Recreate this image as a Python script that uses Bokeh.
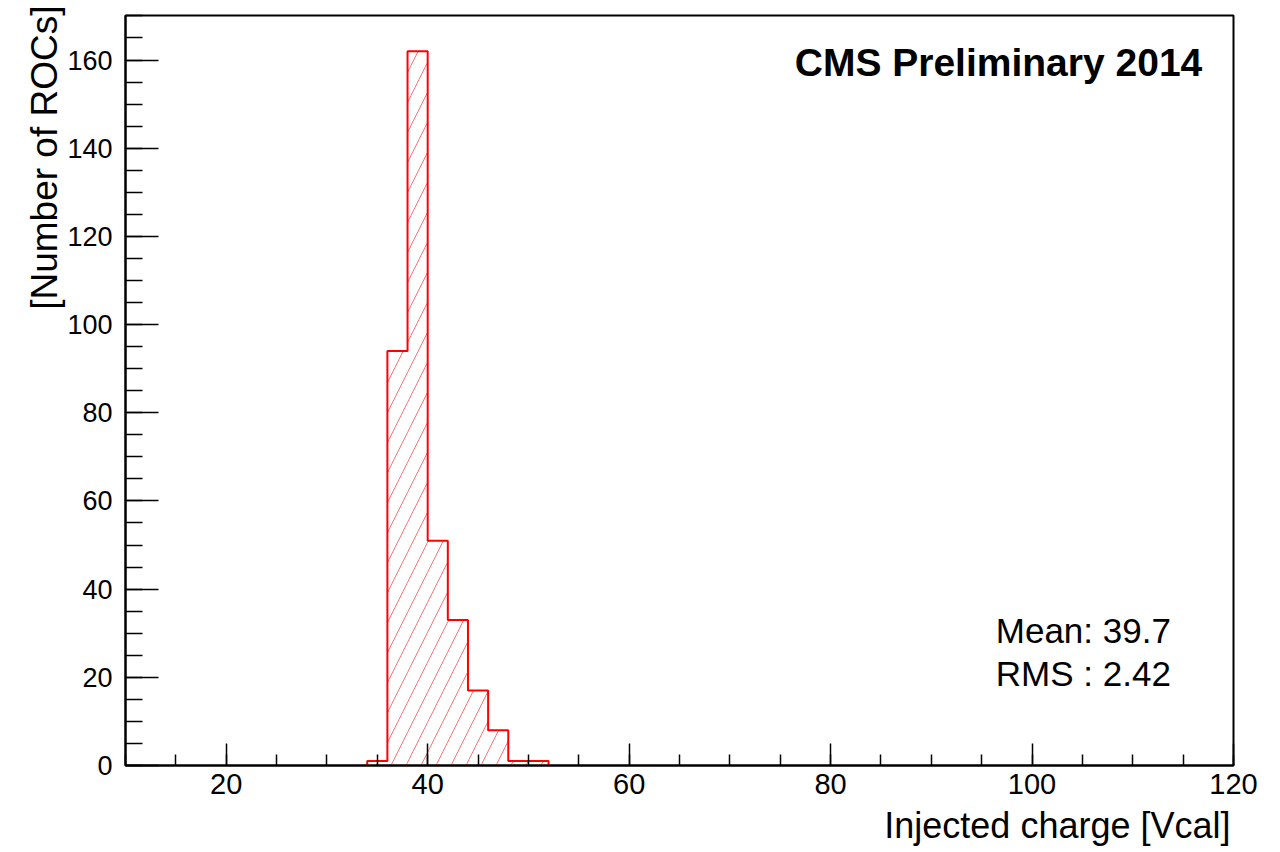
import math
from bokeh.plotting import figure
from bokeh.models import SingleIntervalTicker, Label, ColumnDataSource, Title
from bokeh.embed import file_html
from bokeh.resources import INLINE

# ---- data ----
bin_low = [34, 36, 38, 40, 42, 44, 46, 48, 50]
bin_width = 2
counts = [1, 94, 162, 51, 33, 17, 8, 1, 1]
x_ticks_major = 20
y_ticks_major = 20
title_text = "CMS Preliminary 2014"
stats_lines = ["Mean: 39.7", "RMS : 2.42"]
x_title = "Injected charge [Vcal]"
y_title = "[Number of ROCs]"

FONT = "Liberation Sans"

p = figure(width=1280, height=852, x_range=(10, 120), y_range=(0, 170.1),
           output_backend="svg", toolbar_location=None,
           min_border_left=125, min_border_right=47,
           min_border_top=15, min_border_bottom=87)
p.background_fill_color = "white"
p.border_fill_color = "white"
p.grid.visible = False
p.outline_line_color = "black"
p.outline_line_width = 2

# hatched bins
bin_high = [b + bin_width for b in bin_low]
src = ColumnDataSource(dict(left=bin_low, right=bin_high, top=counts, bottom=[0] * len(counts)))
p.quad(left="left", right="right", top="top", bottom="bottom", source=src,
       fill_color=None, line_color=None,
       hatch_pattern="/", hatch_color="#ff0000", hatch_alpha=0.55,
       hatch_weight=1, hatch_scale=30)

# step outline
xs = [bin_low[0]]
ys = [0]
for lo, hi, c in zip(bin_low, bin_high, counts):
    xs += [lo, hi]
    ys += [c, c]
xs.append(bin_high[-1])
ys.append(0)
p.line(xs, ys, line_color="#ff0000", line_width=2)

# axes
xa = p.xaxis[0]
xa.ticker = SingleIntervalTicker(interval=x_ticks_major, num_minor_ticks=4)
ya = p.yaxis[0]
ya.ticker = SingleIntervalTicker(interval=y_ticks_major, num_minor_ticks=4)
for ax in (xa, ya):
    ax.axis_line_color = "black"
    ax.axis_line_width = 2
    ax.major_tick_line_color = "black"
    ax.minor_tick_line_color = "black"
    ax.major_tick_line_width = 1.5
    ax.minor_tick_line_width = 1.5
    ax.major_tick_out = 0
    ax.minor_tick_out = 0
    ax.major_label_text_font = FONT
    ax.major_label_text_color = "black"
xa.major_label_text_font_size = "29px"
ya.major_label_text_font_size = "27px"
xa.major_tick_in = 22
xa.minor_tick_in = 11
ya.major_tick_in = 33
ya.minor_tick_in = 17
xa.major_label_standoff = 8
ya.major_label_standoff = 13

# axis titles as side-panel titles
p.add_layout(Title(text=x_title, align="right", text_font=FONT, text_font_size="36px",
                   text_font_style="normal", text_color="black", standoff=13, offset=3,
                   text_line_height=0.8),
             "below")
p.add_layout(Title(text=y_title, align="right", text_font=FONT, text_font_size="37px",
                   text_font_style="normal", text_color="black", standoff=0, offset=-10),
             "left")

# texts
p.add_layout(Label(x=116.9, y=159.4, text=title_text, text_font=FONT,
                   text_font_size="39px", text_font_style="bold",
                   text_align="right", text_baseline="alphabetic", text_color="black"))
p.add_layout(Label(x=96.4, y=30.6, text=stats_lines[0], text_font=FONT,
                   text_font_size="35px", text_align="left",
                   text_baseline="alphabetic", text_color="black"))
p.add_layout(Label(x=96.4, y=20.8, text=stats_lines[1], text_font=FONT,
                   text_font_size="35px", text_align="left",
                   text_baseline="alphabetic", text_color="black"))

open("out.html", "w").write(file_html(p, INLINE))
